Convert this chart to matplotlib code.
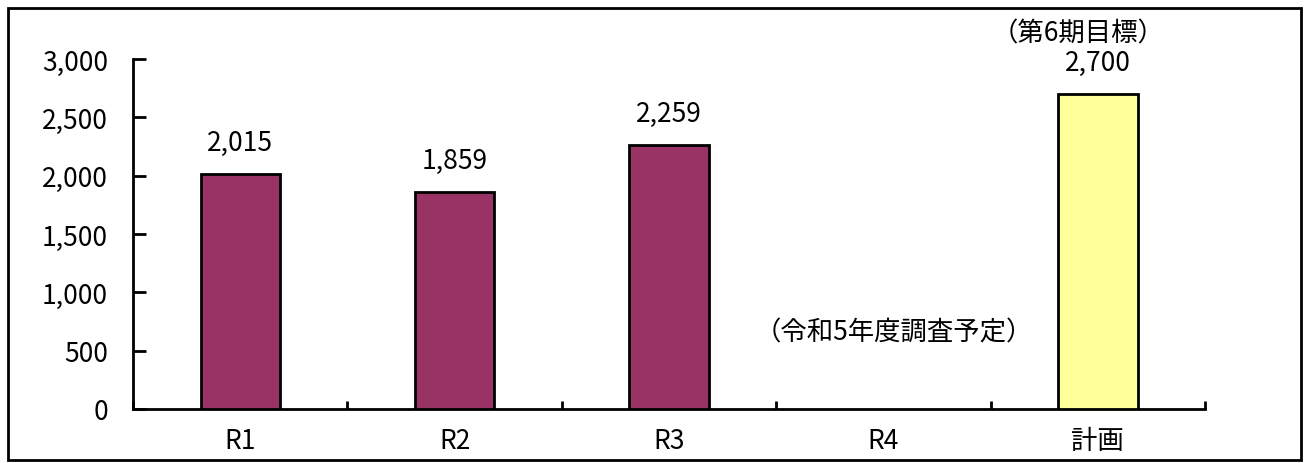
import matplotlib
matplotlib.use("Agg")
import matplotlib.pyplot as plt
from matplotlib.patches import Rectangle
from matplotlib.ticker import FuncFormatter
import numpy as np

plt.rcParams['font.family'] = ['Noto Sans CJK JP', 'DejaVu Sans']

categories = ["R1", "R2", "R3", "R4", "計画"]
values = [2015, 1859, 2259, np.nan, 2700]
colors = ["#993366", "#993366", "#993366", "#993366", "#FFFF99"]
value_labels = ["2,015", "1,859", "2,259", "", "2,700"]
note_r4 = "（令和5年度調査予定）"
note_plan = "（第6期目標）"
yticks = [0, 500, 1000, 1500, 2000, 2500, 3000]

FS = 19

fig = plt.figure(figsize=(13.08, 4.64), dpi=100)
fig.patches.append(Rectangle((0.006, 0.006), 0.989, 0.975, transform=fig.transFigure,
                             fill=False, edgecolor="black", linewidth=2))

ax = fig.add_axes([0.1017, 0.1164, 0.8196, 0.7543])
x = np.arange(len(categories))
ax.bar(x, values, width=0.37, color=colors, edgecolor="black", linewidth=2, zorder=3)

ax.set_xlim(-0.5, len(categories) - 0.5)
ax.set_ylim(0, 3000)
ax.set_yticks(yticks)
ax.yaxis.set_major_formatter(FuncFormatter(lambda v, p: f"{int(v):,}"))
ax.tick_params(axis="y", direction="in", length=9, width=2, labelsize=FS, pad=18)

ax.set_xticks(np.arange(len(categories) + 1) - 0.5)
ax.set_xticklabels([])
ax.tick_params(axis="x", which="major", direction="in", length=6, width=2)
ax.set_xticks(x, minor=True)
ax.set_xticklabels(categories, minor=True)
ax.tick_params(axis="x", which="minor", length=0, labelsize=FS, pad=13)

for s in ["top", "right"]:
    ax.spines[s].set_visible(False)
for s in ["left", "bottom"]:
    ax.spines[s].set_linewidth(2)

for xi, v, lab in zip(x, values, value_labels):
    if lab:
        ax.annotate(lab, (xi, v), xytext=(0, 23), textcoords="offset points",
                    ha="center", va="center", fontsize=FS)

ax.annotate(note_plan, (x[-1], values[-1]), xytext=(-14, 44), textcoords="offset points",
            ha="center", va="center", fontsize=FS, annotation_clip=False)
ax.text(3.05, 660, note_r4, ha="center", va="center", fontsize=FS)

fig.savefig("out.png", dpi=100)
